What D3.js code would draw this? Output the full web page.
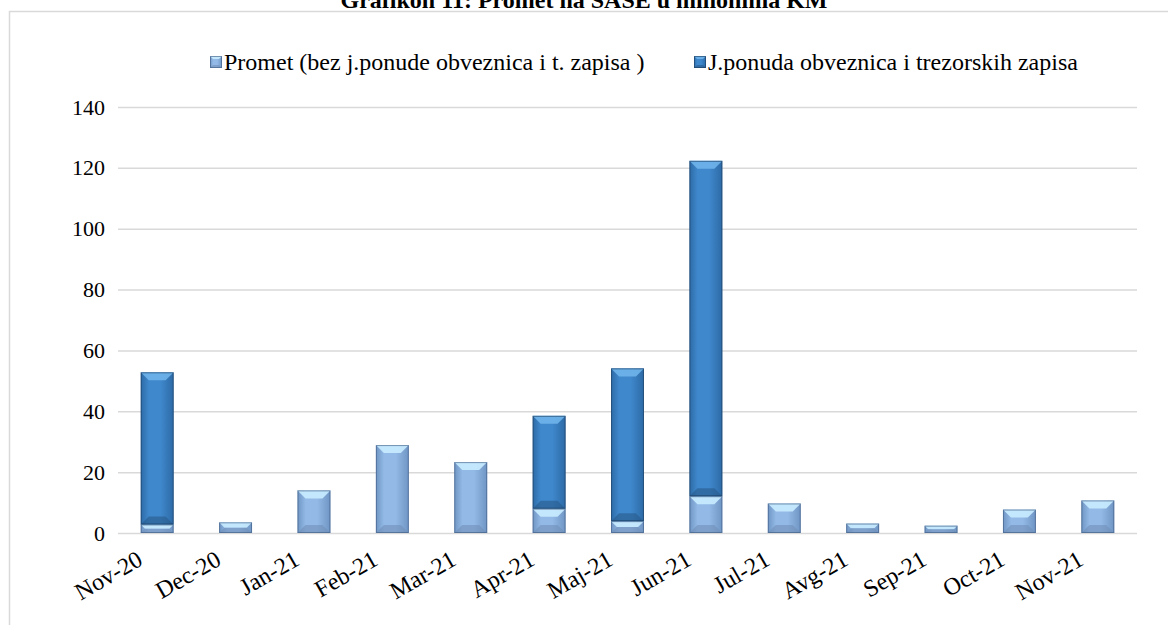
<!DOCTYPE html>
<html>
<head>
<meta charset="utf-8">
<script src="https://cdn.jsdelivr.net/npm/d3@7"></script>
<style>
    body { margin: 0; background: #fff; }
    svg text { font-family: "Liberation Serif", "Times New Roman", Times, "DejaVu Serif", serif !important; }
</style>
</head>
<body>
<div id="chart"></div>
<script>
// months on the x axis
const months = ["Nov-20", "Dec-20", "Jan-21", "Feb-21", "Mar-21", "Apr-21", "Maj-21",
    "Jun-21", "Jul-21", "Avg-21", "Sep-21", "Oct-21", "Nov-21"];

// turnover without public offering of bonds and treasury bills
const promet = [2.8, 3.5, 14.0, 28.9, 23.3, 8.0, 3.9, 12.1, 9.7, 3.1, 2.4, 7.7, 10.7];
// public offering of bonds and treasury bills
const jponuda = [50.0, 0, 0, 0, 0, 30.5, 50.2, 110.2, 0, 0, 0, 0, 0];

const seriesNames = ["Promet (bez j.ponude obveznica i t. zapisa )", "J.ponuda obveznica i trezorskih zapisa"];
const yTicks = [0, 20, 40, 60, 80, 100, 120, 140];

const W = 1168, H = 625;
const margin = {top: 107, right: 31, bottom: 92, left: 118};

const svg = d3.select("#chart").append("svg")
    .attr("width", W)
    .attr("height", H);

// colour sets: base, light bevel, dark edge
const palette = [
    {mid: "#93b9e6", edge: "#6f95c4", top: "#c9ecff", bottom: "#6f8fb8", line: "#3d5a80"},
    {mid: "#3f88cc", edge: "#2d6aa6", top: "#6fb4ea", bottom: "#285a8a", line: "#1c3c5e"}
];

const defs = svg.append("defs");
palette.forEach((p, i) => {
    const g = defs.append("linearGradient").attr("id", "grad" + i)
        .attr("x1", 0).attr("x2", 1).attr("y1", 0).attr("y2", 0);
    g.append("stop").attr("offset", "0%").attr("stop-color", p.edge);
    g.append("stop").attr("offset", "25%").attr("stop-color", p.mid);
    g.append("stop").attr("offset", "60%").attr("stop-color", p.mid);
    g.append("stop").attr("offset", "100%").attr("stop-color", p.edge);
});

// title, cut off by the top of the picture
svg.append("text")
    .attr("x", 584).attr("y", 8)
    .attr("text-anchor", "middle")
    .attr("font-size", 24).attr("font-weight", "bold")
    .text("Grafikon 11: Promet na SASE u milionima KM");

// chart frame
svg.append("rect")
    .attr("x", 9.5).attr("y", 11.5)
    .attr("width", W + 20).attr("height", H + 20)
    .attr("fill", "none").attr("stroke", "#d9d9d9").attr("stroke-width", 1.5);

const x = d3.scaleBand()
    .domain(months)
    .range([margin.left, W - margin.right])
    .paddingInner(0.58)
    .paddingOuter(0.29);

const y = d3.scaleLinear()
    .domain([0, 140])
    .range([H - margin.bottom, margin.top]);

// gridlines + y labels
const yAxis = d3.axisLeft(y)
    .tickValues(yTicks)
    .tickSize(-(W - margin.right - margin.left))
    .tickPadding(13)
    .tickFormat(d => d);

svg.append("g")
    .attr("class", "axis axis--y")
    .attr("transform", `translate(${margin.left},0)`)
    .call(yAxis)
    .call(g => g.select(".domain").remove())
    .call(g => g.selectAll("line").attr("stroke", "#d9d9d9").attr("stroke-width", 1.5))
    .call(g => g.selectAll("text").attr("font-size", 22).attr("fill", "#000"));

const xAxis = d3.axisBottom(x).tickSize(0).tickPadding(0);

svg.append("g")
    .attr("class", "axis axis--x")
    .attr("transform", `translate(0,${H - margin.bottom})`)
    .call(xAxis)
    .call(g => g.select(".domain").remove())
    .call(g => g.selectAll("text")
        .attr("font-size", 24).attr("fill", "#000")
        .attr("text-anchor", "end")
        .attr("dy", 0)
        .attr("transform", "translate(-13,31) rotate(-30)"));

// stacked data
const stackData = months.map((m, i) => ({month: m, p: promet[i], j: jponuda[i]}));
const stacked = d3.stack().keys(["p", "j"])(stackData);

function bevelBar(g, x0, y0, w, h, p, bev) {
    const b = Math.min(bev, h / 2, w / 2);
    g.append("rect")
        .attr("x", x0).attr("y", y0).attr("width", w).attr("height", h)
        .attr("fill", `url(#grad${p.idx})`);
    // top bevel
    g.append("path")
        .attr("d", `M${x0},${y0}L${x0 + w},${y0}L${x0 + w - b},${y0 + b}L${x0 + b},${y0 + b}Z`)
        .attr("fill", p.top).attr("opacity", 0.9);
    // bottom bevel
    g.append("path")
        .attr("d", `M${x0},${y0 + h}L${x0 + w},${y0 + h}L${x0 + w - b},${y0 + h - b}L${x0 + b},${y0 + h - b}Z`)
        .attr("fill", p.bottom).attr("opacity", 0.6);
    g.append("rect")
        .attr("x", x0 + 0.5).attr("y", y0 + 0.5).attr("width", w - 1).attr("height", h - 1)
        .attr("fill", "none").attr("stroke", p.line).attr("stroke-opacity", 0.6);
}

const plot = svg.append("g").attr("class", "bars");

stacked.forEach((layer, si) => {
    const p = Object.assign({idx: si}, palette[si]);
    layer.forEach(d => {
        if (d[1] - d[0] <= 0) return;
        const x0 = x(d.data.month);
        const y0 = y(d[1]);
        const h = y(d[0]) - y(d[1]);
        bevelBar(plot.append("g"), x0, y0, x.bandwidth(), h, p, 8);
    });
});

// legend
const legend = svg.append("g").attr("class", "legend");
const legendX = [210, 694];
seriesNames.forEach((name, i) => {
    const g = legend.append("g").attr("transform", `translate(${legendX[i]},70)`);
    bevelBar(g, 0, -14, 12, 12, Object.assign({idx: i}, palette[i]), 3);
    g.append("text")
        .attr("x", 14).attr("y", 0)
        .attr("font-size", 24)
        .text(name);
});
</script>
</body>
</html>
